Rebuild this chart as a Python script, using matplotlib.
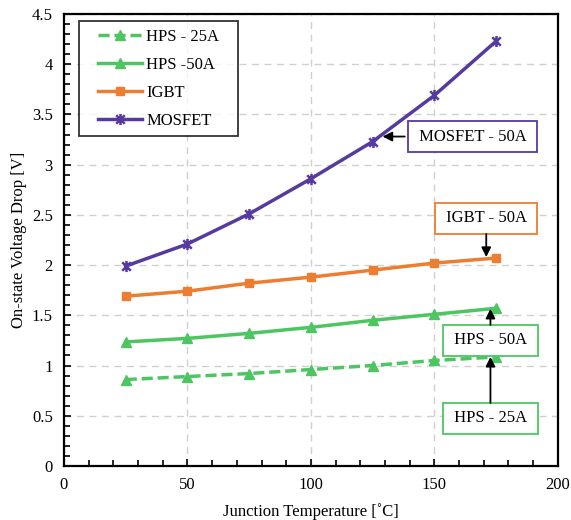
import matplotlib
matplotlib.use("Agg")
import matplotlib.pyplot as plt
from matplotlib.path import Path
from matplotlib.lines import Line2D
from matplotlib.legend_handler import HandlerLine2D
from matplotlib.ticker import MultipleLocator

plt.rcParams["font.family"] = ["Liberation Serif", "DejaVu Serif"]

temps = [25, 50, 75, 100, 125, 150, 175]
hps_25 = [0.86, 0.89, 0.92, 0.96, 1.00, 1.05, 1.085]
hps_50 = [1.235, 1.27, 1.32, 1.38, 1.45, 1.51, 1.57]
igbt = [1.69, 1.74, 1.82, 1.88, 1.95, 2.02, 2.07]
mosfet = [1.99, 2.21, 2.51, 2.86, 3.23, 3.69, 4.23]

GREEN = "#4DC662"
ORANGE = "#ED7D31"
PURPLE = "#573A9E"

# Excel-style star: an x with a vertical stroke through it
star = Path([(-1, -1), (1, 1), (-1, 1), (1, -1), (0, -1.3), (0, 1.3)],
            [Path.MOVETO, Path.LINETO, Path.MOVETO, Path.LINETO,
             Path.MOVETO, Path.LINETO])

fig = plt.figure(figsize=(5.71, 5.20), dpi=100)
ax = fig.add_axes([0.112, 0.104, 0.865, 0.869])

ax.plot(temps, hps_25, color=GREEN, lw=2.5, ls=(0, (3.2, 1.4)), marker="^",
        ms=7, label="HPS - 25A")
ax.plot(temps, hps_50, color=GREEN, lw=2.5, marker="^", ms=7, label="HPS -50A")
ax.plot(temps, igbt, color=ORANGE, lw=2.5, marker="s", ms=6, label="IGBT")
ax.plot(temps, mosfet, color=PURPLE, lw=2.5, marker=star, ms=8, mew=1.8,
        label="MOSFET")

ax.set_xlim(0, 200)
ax.set_ylim(0, 4.5)
ax.xaxis.set_major_locator(MultipleLocator(50))
ax.xaxis.set_minor_locator(MultipleLocator(10))
ax.yaxis.set_major_locator(MultipleLocator(0.5))
ax.yaxis.set_minor_locator(MultipleLocator(0.1))
ax.yaxis.set_major_formatter(plt.FuncFormatter(lambda v, p: f"{v:g}"))
ax.tick_params(which="both", direction="in", top=False, right=False,
               labelsize=12, width=1.2)
ax.tick_params(which="major", length=5, pad=8)
ax.tick_params(which="minor", length=4)
ax.grid(True, which="major", ls=(0, (5, 4)), color="#d0d0d0", lw=1)
ax.set_axisbelow(True)
for s in ax.spines.values():
    s.set_linewidth(1.6)

ax.set_xlabel("Junction Temperature [˚C]", fontsize=12, labelpad=7)
ax.set_ylabel("On-state Voltage Drop [V]", fontsize=12, labelpad=3.7)

leg = ax.legend(loc="upper left", bbox_to_anchor=(0.0304, 0.9845, 0.322, 0.0),
                mode="expand", borderaxespad=0, fontsize=12, frameon=True,
                fancybox=False, edgecolor="black", handlelength=3.35,
                borderpad=0.45, labelspacing=0.72, handletextpad=0.25,
                handler_map={Line2D: HandlerLine2D(xpad=0.72)})
leg.get_frame().set_linewidth(1.3)

arrow = dict(arrowstyle="-|>", color="black", lw=1.3, mutation_scale=14,
             shrinkA=0, shrinkB=0)


def callout(text, edge, center, tail, head):
    ax.text(*center, " " + text + " ", fontsize=12, ha="center", va="center",
            bbox=dict(boxstyle="square,pad=0.44", fc="white", ec=edge, lw=1.3))
    ax.annotate("", xy=head, xytext=tail, arrowprops=arrow)


callout("MOSFET - 50A", PURPLE, (165.4, 3.28), (138, 3.28), (129, 3.28))
callout("IGBT - 50A", ORANGE, (170.9, 2.465), (171, 2.31), (171, 2.08))
callout("HPS - 50A", GREEN, (172.7, 1.25), (172.7, 1.404), (172.7, 1.565))
callout("HPS - 25A", GREEN, (172.7, 0.473), (172.7, 0.627), (172.7, 1.086))

fig.savefig("out.png", dpi=100)
